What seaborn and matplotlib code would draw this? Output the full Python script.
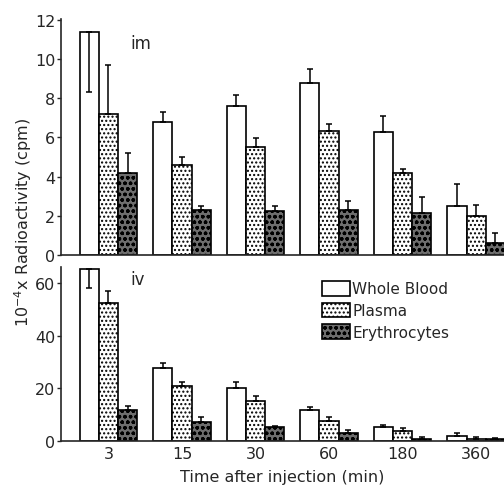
import numpy as np
import pandas as pd
import matplotlib
matplotlib.use("Agg")
import matplotlib.pyplot as plt
import seaborn as sns

# Data (values x 10^-4 cpm)
times = ["3", "15", "30", "60", "180", "360"]
fractions = ["Whole Blood", "Plasma", "Erythrocytes"]

im_whole = [11.4, 6.8, 7.6, 8.8, 6.3, 2.5]
im_plasma = [7.2, 4.6, 5.5, 6.35, 4.2, 2.0]
im_ery = [4.2, 2.3, 2.27, 2.3, 2.15, 0.6]
# error bars: upper and lower parts
im_whole_hi = [0.0, 0.5, 0.55, 0.7, 0.8, 1.1]
im_whole_lo = [3.1, 0, 0, 0, 0, 0]
im_plasma_hi = [2.5, 0.4, 0.45, 0.35, 0.2, 0.55]
im_ery_hi = [1.0, 0.2, 0.25, 0.45, 0.8, 0.5]

iv_whole = [65.6, 27.9, 20.0, 11.7, 5.3, 1.9]
iv_plasma = [52.4, 21.1, 15.1, 7.5, 3.8, 0.8]
iv_ery = [11.7, 7.2, 5.3, 3.0, 0.75, 0.6]
iv_whole_hi = [0.0, 1.9, 2.3, 1.1, 0.7, 1.1]
iv_whole_lo = [7.2, 0, 0, 0, 0, 0]
iv_plasma_hi = [4.6, 1.2, 1.9, 1.5, 1.1, 0.7]
iv_ery_hi = [1.5, 1.8, 0.5, 1.1, 0.75, 0.6]

sns.set_style("ticks")
plt.rcParams["font.family"] = ["DejaVu Sans"]
plt.rcParams["hatch.linewidth"] = 1.0
plt.rcParams["hatch.color"] = "black"

palette = {"Whole Blood": "white", "Plasma": "white", "Erythrocytes": "#6e6e6e"}
hatches = ["", "....", "ooo"]


def make_df(whole, plasma, ery):
    rows = []
    for name, vals in zip(fractions, [whole, plasma, ery]):
        for t, v in zip(times, vals):
            rows.append({"time": t, "fraction": name, "value": v})
    return pd.DataFrame(rows)


def draw_panel(ax, df, lo_list, hi_list, ymax):
    sns.barplot(data=df, x="time", y="value", hue="fraction", order=times,
                hue_order=fractions, palette=palette, saturation=1,
                errorbar=None, width=0.78, edgecolor="black", linewidth=1.2,
                legend=False, ax=ax)
    for cont, h, lo, hi in zip(ax.containers, hatches, lo_list, hi_list):
        xs, ys = [], []
        for p in cont.patches:
            p.set_hatch(h)
            xs.append(p.get_x() + p.get_width() / 2)
            ys.append(p.get_height())
        ax.errorbar(xs, ys, yerr=[lo, hi], fmt="none", ecolor="black",
                    elinewidth=1.1, capsize=2.2, capthick=1.1)
    ax.set_xlim(-0.646, 5.38)
    ax.set_ylim(0, ymax)
    ax.set_xlabel("")
    ax.set_ylabel("")
    sns.despine(ax=ax)
    ax.tick_params(axis="x", length=0, labelsize=11.5)
    ax.tick_params(axis="y", length=3, width=1, labelsize=11.5, pad=1)
    for s in ["left", "bottom"]:
        ax.spines[s].set_linewidth(1.2)


fig = plt.figure(figsize=(5.04, 4.89), dpi=100)
ax_top = fig.add_axes([0.121, 0.4765, 0.879, 0.4826])
ax_bot = fig.add_axes([0.121, 0.0961, 0.879, 0.3558])

zeros = [0] * 6
draw_panel(ax_top, make_df(im_whole, im_plasma, im_ery),
           [im_whole_lo, zeros, zeros], [im_whole_hi, im_plasma_hi, im_ery_hi], 12.05)
ax_top.set_yticks([0, 2, 4, 6, 8, 10, 12])
ax_top.set_xticklabels([])
ax_top.text(0.156, 0.90, "im", transform=ax_top.transAxes, fontsize=12,
            va="center", ha="left")

draw_panel(ax_bot, make_df(iv_whole, iv_plasma, iv_ery),
           [iv_whole_lo, zeros, zeros], [iv_whole_hi, iv_plasma_hi, iv_ery_hi], 66.2)
ax_bot.set_yticks([0, 20, 40, 60])
ax_bot.text(0.156, 0.93, "iv", transform=ax_bot.transAxes, fontsize=12,
            va="center", ha="left")
ax_bot.legend(handles=list(ax_bot.containers), labels=fractions,
              loc="upper left", bbox_to_anchor=(0.59, 0.92), frameon=False,
              fontsize=11, handlelength=1.8, handleheight=1.1,
              handletextpad=0.15, labelspacing=0.4, borderpad=0,
              borderaxespad=0)

ax_bot.set_xlabel("Time after injection (min)", fontsize=11.5, labelpad=6)
fig.text(0.045, 0.545, r"$10^{-4}$x Radioactivity (cpm)", rotation=90,
         ha="center", va="center", fontsize=11.5)

fig.savefig("out.png", dpi=100)
